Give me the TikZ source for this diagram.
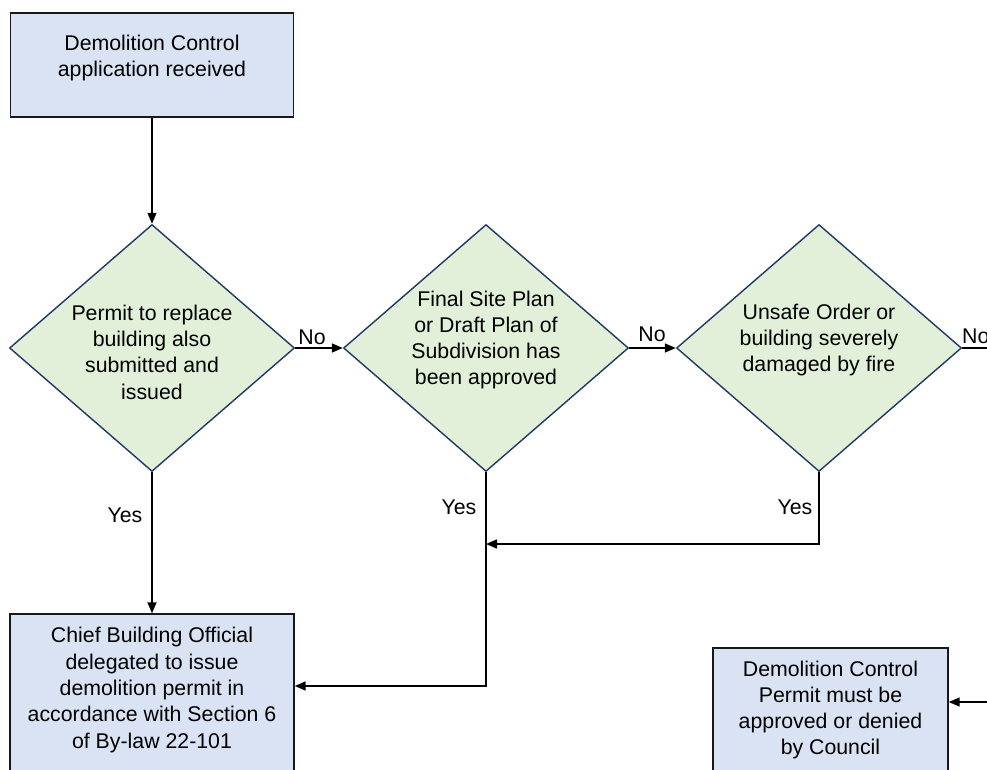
\documentclass[tikz,border=0pt]{standalone}
\usepackage{fontspec}
\setmainfont{Liberation Sans}
\usetikzlibrary{shapes.geometric,arrows.meta}
\definecolor{boxfill}{HTML}{DAE3F3}
\definecolor{diafill}{HTML}{E2F0D9}
\definecolor{diaedge}{HTML}{203864}
\begin{document}
\begin{tikzpicture}[x=1pt,y=-1pt,
  font=\fontsize{21.3}{26.3}\selectfont,
  procbox/.style={draw=black!90, line width=1.4pt, fill=boxfill, rectangle, inner sep=0pt},
  decision/.style={draw=diaedge, line width=1.4pt, fill=diafill, diamond, inner sep=0pt, minimum width=285pt, minimum height=247pt},
  txt/.style={align=center, inner sep=0pt},
  lbl/.style={inner sep=0pt},
  arr/.style={line width=1.5pt, -{Triangle[length=11pt,width=9pt]}},
  ln/.style={line width=1.5pt}]
\useasboundingbox (0,0) rectangle (987,770);
\clip (0,0) rectangle (987,770);
% boxes
\node[procbox, minimum width=283pt, minimum height=104pt] (b1) at (152,65) {};
\node[txt] (b1t) at (152,58) {Demolition Control\\application received};
\node[procbox, minimum width=284pt, minimum height=180pt] (b2) at (152,704) {};
\node[txt] (b2t) at (152,690) {Chief Building Official\\delegated to issue\\demolition permit in\\accordance with Section 6\\of By-law 22-101};
\node[procbox, minimum width=235pt, minimum height=160pt] (b3) at (830.5,728) {};
\node[txt] (b3t) at (830.5,710) {Demolition Control\\Permit must be\\approved or denied\\by Council};
% decisions
\node[decision] (d1) at (152,348) {};
\node[txt] (d1t) at (152,352) {Permit to replace\\building also\\submitted and\\issued};
\node[decision] (d2) at (486,348) {};
\node[txt] (d2t) at (486,340) {Final Site Plan\\or Draft Plan of\\Subdivision has\\been approved};
\node[decision] (d3) at (819,348) {};
\node[txt] (d3t) at (819,340) {Unsafe Order or\\building severely\\damaged by fire};
% helper coordinates
\coordinate (rend) at (995,348);
\coordinate (rin) at (995,702);
\coordinate (j2) at (486,686);
\coordinate (j3) at (819,544);
\coordinate (j3b) at (486,544);
% connectors
\draw[arr] (b1.south) -- (d1.north);
\draw[arr] (d1.east) -- (d2.west);
\draw[arr] (d2.east) -- (d3.west);
\draw[ln] (d3.east) -- (rend);
\draw[arr] (d1.south) -- (b2.north);
\draw[arr] (d2.south) -- (j2) -- (b2.east |- j2);
\draw[arr] (d3.south) -- (j3) -- (j3b);
\draw[arr] (rin) -- (b3.east |- rin);
% labels
\node[lbl] (n1) at (312,337) {No};
\node[lbl] (n2) at (652,334) {No};
\node[lbl, anchor=west] (n3) at (962,336) {No};
\node[lbl] (y1) at (125,515) {Yes};
\node[lbl] (y2) at (459,507) {Yes};
\node[lbl] (y3) at (795,507) {Yes};
\end{tikzpicture}
\end{document}
